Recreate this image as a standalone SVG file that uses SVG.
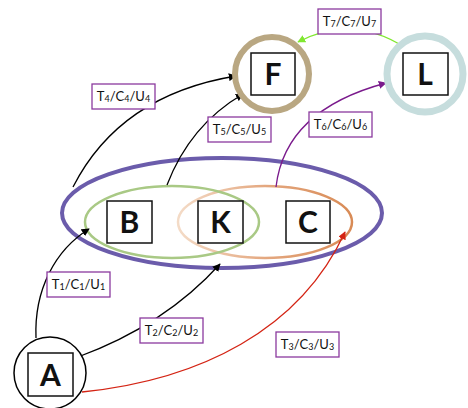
<svg xmlns="http://www.w3.org/2000/svg" width="468" height="408" viewBox="0 0 468 408">
<defs>
<style>
.lbl rect{fill:#fff;stroke:#8b3a9e;stroke-width:1.3}
.lbl text{font-family:Lato,"Open Sans",sans-serif;font-size:13px;fill:#111;text-anchor:middle}
.sub{font-size:9px}
.node rect{fill:#fff;stroke:#111;stroke-width:1.5}
.node text{font-family:Lato,"Open Sans",sans-serif;font-size:30px;font-weight:bold;fill:#111;text-anchor:middle}
.conn path{fill:none;stroke-width:1.3}
</style>
<marker id="mk" viewBox="0 0 10 10" refX="9" refY="5" markerWidth="8" markerHeight="8" markerUnits="userSpaceOnUse" orient="auto"><path d="M0,0 L10,5 L0,10 z" fill="#000"/></marker>
<marker id="mr" viewBox="0 0 10 10" refX="9" refY="5" markerWidth="8" markerHeight="8" markerUnits="userSpaceOnUse" orient="auto"><path d="M0,0 L10,5 L0,10 z" fill="#d42414"/></marker>
<marker id="mp" viewBox="0 0 10 10" refX="9" refY="5" markerWidth="8" markerHeight="8" markerUnits="userSpaceOnUse" orient="auto"><path d="M0,0 L10,5 L0,10 z" fill="#7a1a8c"/></marker>
<marker id="mg" viewBox="0 0 10 10" refX="9" refY="5" markerWidth="8" markerHeight="8" markerUnits="userSpaceOnUse" orient="auto"><path d="M0,0 L10,5 L0,10 z" fill="#80e830"/></marker>
<linearGradient id="og" gradientUnits="userSpaceOnUse" x1="177" y1="0" x2="353" y2="0">
<stop offset="0" stop-color="#f4dcc8"/><stop offset="0.5" stop-color="#e4a880"/><stop offset="1" stop-color="#d88a55"/>
</linearGradient>
</defs>
<rect width="468" height="408" fill="#fff"/>

<g id="groups">
<ellipse id="outer" cx="222" cy="213" rx="160" ry="55" fill="none" stroke="#6b5cab" stroke-width="4"/>
<ellipse id="orange" cx="265" cy="222" rx="87" ry="36" fill="none" stroke="url(#og)" stroke-width="2.5"/>
<ellipse id="green" cx="172" cy="222" rx="87" ry="36" fill="none" stroke="#a9c985" stroke-width="2.5"/>
</g>

<g id="connectors" class="conn">
<path d="M36,338 C34,290 55,250 89,229" stroke="#000" marker-end="url(#mk)"/>
<path d="M78,357 Q165,325 220,264" stroke="#000" marker-end="url(#mk)"/>
<path d="M82,392 C200,380 300,330 345,232" stroke="#d42414" marker-end="url(#mr)"/>
<path d="M73,187 Q120,95 236,76" stroke="#000" marker-end="url(#mk)"/>
<path d="M167,185 Q190,125 243,94" stroke="#000" marker-end="url(#mk)"/>
<path d="M276,187 Q285,110 386,83" stroke="#7a1a8c" marker-end="url(#mp)"/>
<path d="M404,47 Q352,14 298,42" stroke="#80e830" marker-end="url(#mg)"/>
</g>

<g id="F" class="node">
<circle cx="272" cy="74" r="37" fill="#fff" stroke="#b9a782" stroke-width="6"/>
<rect x="251" y="53" width="44" height="42"/>
<text x="273" y="85">F</text>
</g>
<g id="L" class="node">
<circle cx="425" cy="74" r="38" fill="#fff" stroke="#c6dddd" stroke-width="7"/>
<rect x="403" y="53" width="45" height="42"/>
<text x="425" y="85">L</text>
</g>
<g id="B" class="node">
<rect x="107" y="201" width="45" height="42"/>
<text x="129.5" y="233">B</text>
</g>
<g id="K" class="node">
<rect x="198" y="201" width="45" height="42"/>
<text x="220.5" y="233">K</text>
</g>
<g id="C" class="node">
<rect x="286" y="201" width="44" height="42"/>
<text x="308" y="233">C</text>
</g>
<g id="A" class="node">
<circle cx="50" cy="373" r="36" fill="#fff" stroke="#000" stroke-width="1.5"/>
<rect x="28" y="353" width="45" height="43"/>
<text x="50.5" y="386">A</text>
</g>

<g id="labels">
<g class="lbl"><rect x="318" y="9" width="63" height="25"/><text x="349.5" y="26">T<tspan class="sub" dy="1">7</tspan><tspan dy="-1">/C</tspan><tspan class="sub" dy="1">7</tspan><tspan dy="-1">/U</tspan><tspan class="sub" dy="1">7</tspan></text></g>
<g class="lbl"><rect x="92" y="84" width="63" height="25"/><text x="123.5" y="101">T<tspan class="sub" dy="1">4</tspan><tspan dy="-1">/C</tspan><tspan class="sub" dy="1">4</tspan><tspan dy="-1">/U</tspan><tspan class="sub" dy="1">4</tspan></text></g>
<g class="lbl"><rect x="208" y="117" width="63" height="25"/><text x="239.5" y="134">T<tspan class="sub" dy="1">5</tspan><tspan dy="-1">/C</tspan><tspan class="sub" dy="1">5</tspan><tspan dy="-1">/U</tspan><tspan class="sub" dy="1">5</tspan></text></g>
<g class="lbl"><rect x="309" y="112" width="63" height="25"/><text x="340.5" y="129">T<tspan class="sub" dy="1">6</tspan><tspan dy="-1">/C</tspan><tspan class="sub" dy="1">6</tspan><tspan dy="-1">/U</tspan><tspan class="sub" dy="1">6</tspan></text></g>
<g class="lbl"><rect x="47" y="272" width="63" height="25"/><text x="78.5" y="289">T<tspan class="sub" dy="1">1</tspan><tspan dy="-1">/C</tspan><tspan class="sub" dy="1">1</tspan><tspan dy="-1">/U</tspan><tspan class="sub" dy="1">1</tspan></text></g>
<g class="lbl"><rect x="140" y="318" width="63" height="25"/><text x="171.5" y="335">T<tspan class="sub" dy="1">2</tspan><tspan dy="-1">/C</tspan><tspan class="sub" dy="1">2</tspan><tspan dy="-1">/U</tspan><tspan class="sub" dy="1">2</tspan></text></g>
<g class="lbl"><rect x="276" y="332" width="63" height="25"/><text x="307.5" y="349">T<tspan class="sub" dy="1">3</tspan><tspan dy="-1">/C</tspan><tspan class="sub" dy="1">3</tspan><tspan dy="-1">/U</tspan><tspan class="sub" dy="1">3</tspan></text></g>
</g>
</svg>
